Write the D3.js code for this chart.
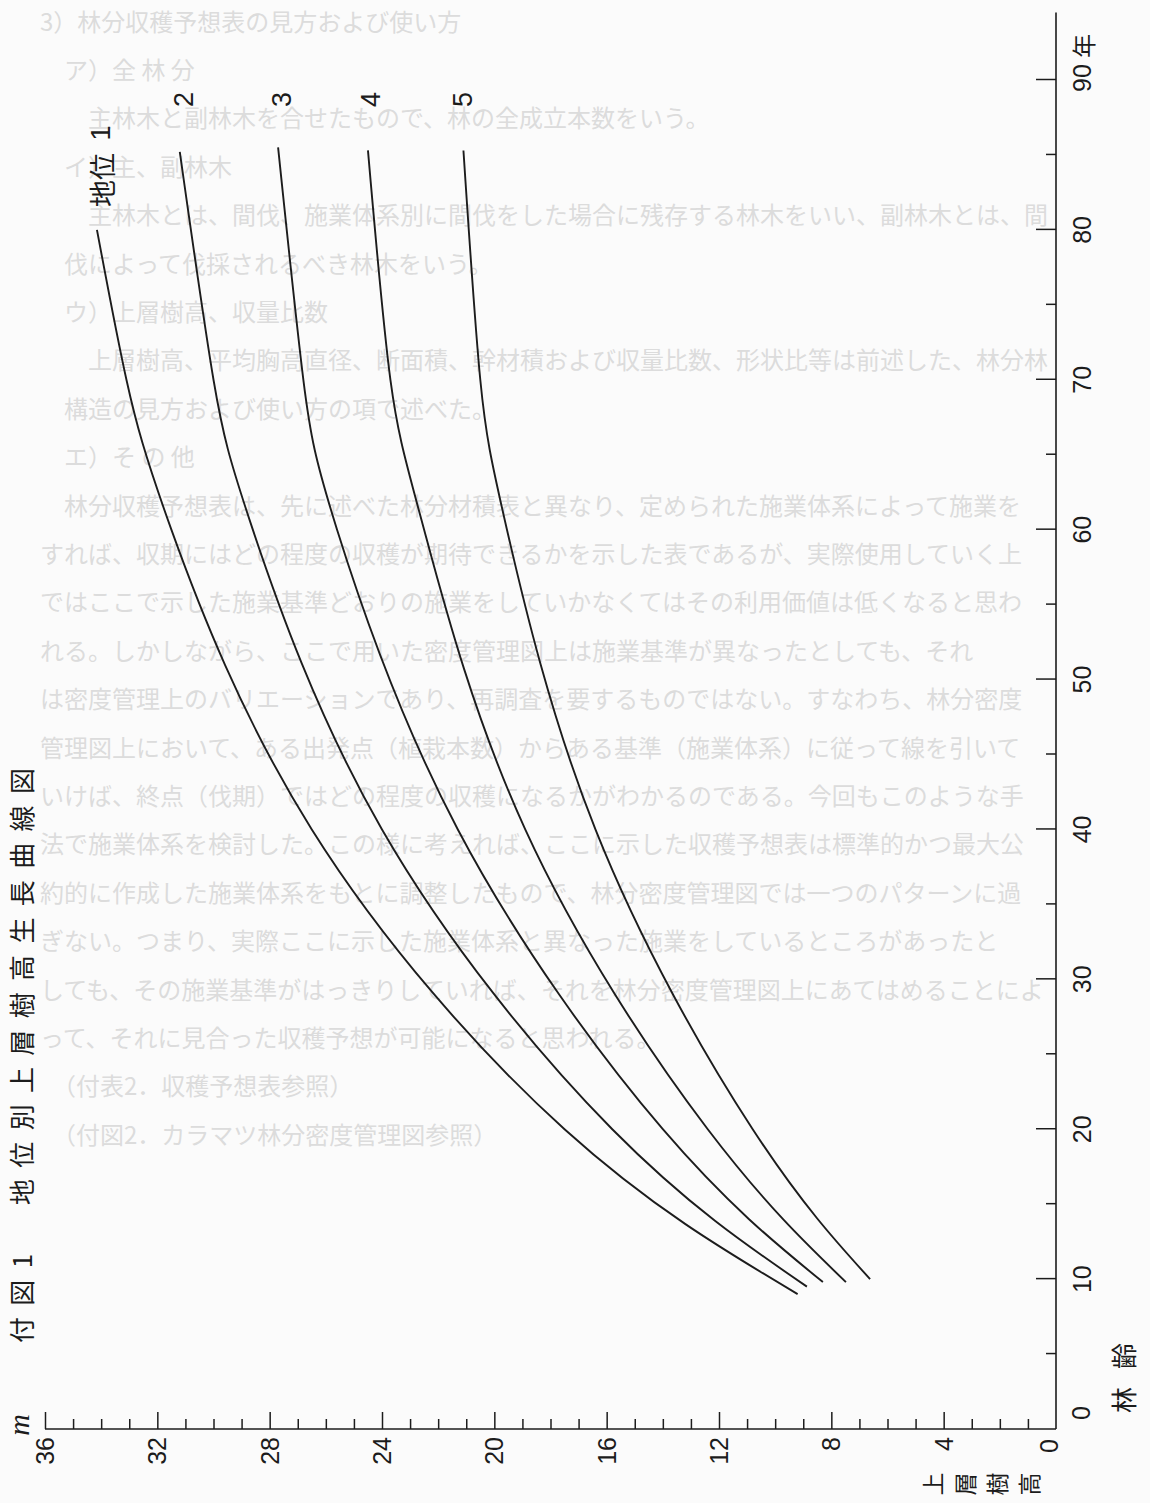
<!DOCTYPE html>
<html>
<head>
<meta charset="utf-8">
<script src="https://cdn.jsdelivr.net/npm/d3@7"></script>
<style>
  body { margin: 0; background: #fbfbfb; }
  svg { display: block; }
</style>
</head>
<body>
<svg id="chart" width="1150" height="1503"></svg>
<script>
// growth curves per site class (age in years, upper-layer height in m)
var siteLabels = ['地位', '2', '3', '4', '5'];
var site1Age = [9, 20, 40, 60, 70, 80];
var site1Height = [9.2, 17.5, 26.5, 31.5, 33.1, 34.15];
var site2Age = [9.5, 20, 40, 60, 70, 85.2];
var site2Height = [8.87, 15.8, 24.0, 28.6, 30.0, 31.2];
var site3Age = [9.8, 20, 40, 60, 70, 85.5];
var site3Height = [8.3, 14.0, 21.3, 25.6, 26.8, 27.7];
var site4Age = [9.8, 20, 40, 60, 70, 85.3];
var site4Height = [7.48, 12.4, 18.9, 22.5, 23.7, 24.5];
var site5Age = [10, 20, 40, 60, 70, 85.3];
var site5Height = [6.62, 10.8, 16.4, 19.55, 20.5, 21.1];

var ageMajor = [10, 20, 30, 40, 50, 60, 70, 80, 90];
var ageMinor = [5, 15, 25, 35, 45, 55, 65, 75, 85];
var heightMajor = [4, 8, 12, 16, 20, 24, 28, 32, 36];
var heightMinor = [1, 2, 3, 5, 6, 7, 9, 10, 11, 13, 14, 15, 17, 18, 19, 21, 22, 23, 25, 26, 27, 29, 30, 31, 33, 34, 35];

var title = '付図1　地位別上層樹高生長曲線図';
var heightTitle = ['上', '層', '樹', '高'];
var ageTitle = ['林', '齢'];

// text from the reverse of the sheet, showing through the paper
var backText = [
  '3）林分収穫予想表の見方および使い方',
  '　ア）全 林 分',
  '　　主林木と副林木を合せたもので、林の全成立本数をいう。',
  '　イ）主、副林木',
  '　　主林木とは、間伐、施業体系別に間伐をした場合に残存する林木をいい、副林木とは、間',
  '　伐によって伐採されるべき林木をいう。',
  '　ウ）上層樹高、収量比数',
  '　　上層樹高、平均胸高直径、断面積、幹材積および収量比数、形状比等は前述した、林分林',
  '　構造の見方および使い方の項で述べた。',
  '　エ）そ の 他',
  '　林分収穫予想表は、先に述べた林分材積表と異なり、定められた施業体系によって施業を',
  'すれば、収期にはどの程度の収穫が期待できるかを示した表であるが、実際使用していく上',
  'ではここで示した施業基準どおりの施業をしていかなくてはその利用価値は低くなると思わ',
  'れる。しかしながら、ここで用いた密度管理図上は施業基準が異なったとしても、それ',
  'は密度管理上のバリエーションであり、再調査を要するものではない。すなわち、林分密度',
  '管理図上において、ある出発点（植栽本数）からある基準（施業体系）に従って線を引いて',
  'いけば、終点（伐期）ではどの程度の収穫になるかがわかるのである。今回もこのような手',
  '法で施業体系を検討した。この様に考えれば、ここに示した収穫予想表は標準的かつ最大公',
  '約的に作成した施業体系をもとに調整したもので、林分密度管理図では一つのパターンに過',
  'ぎない。つまり、実際ここに示した施業体系と異なった施業をしているところがあったと',
  'しても、その施業基準がはっきりしていれば、それを林分密度管理図上にあてはめることによ',
  'って、それに見合った収穫予想が可能になると思われる。',
  '　（付表2．収穫予想表参照）',
  '　（付図2．カラマツ林分密度管理図参照）'
];

var W = 1150, H = 1503;
var jp = '"Noto Sans CJK JP", "Noto Sans", sans-serif';
var num = '"Liberation Sans Narrow", "Liberation Sans", sans-serif';
var ink = '#1c1c1c';

var svg = d3.select('#chart');
svg.append('rect').attr('width', W).attr('height', H).attr('fill', '#fbfbfb');

// faint show-through, horizontal on the scan
svg.append('g')
  .selectAll('text')
  .data(backText)
  .join('text')
  .attr('x', 40)
  .attr('y', function(d, i) { return 20 + i * 48.4; })
  .attr('dominant-baseline', 'central')
  .style('font-family', jp)
  .style('font-size', '24px')
  .style('fill', '#dcdcdc')
  .text(function(d) { return d; });

// the figure itself is printed turned a quarter turn, so draw it upright and rotate
var page = svg.append('g').attr('transform', 'translate(0,' + H + ') rotate(-90)');

var x = d3.scaleLinear().domain([0, 90]).range([74, 1423]);
var y = d3.scaleLinear().domain([0, 36]).range([1056, 45]);

// age axis (bottom of the upright figure)
var ageAxis = page.append('g').attr('transform', 'translate(0,' + y(0) + ')');
ageAxis.append('g').call(d3.axisBottom(x).tickValues(ageMinor).tickSize(-10).tickFormat(''));
ageAxis.append('g').call(d3.axisBottom(x).tickValues(ageMajor).tickSize(-20).tickFormat(''));
ageAxis.selectAll('.domain').remove();
ageAxis.append('line')
  .attr('x1', x(0)).attr('x2', x(94.5))
  .attr('stroke', ink).attr('stroke-width', 1.6);
ageAxis.selectAll('.tick line').attr('stroke', ink).attr('stroke-width', 1.5);

page.append('g')
  .selectAll('text')
  .data(ageMajor)
  .join('text')
  .attr('x', function(d) { return x(d) + (d === 90 ? 2 : 0); })
  .attr('y', 1082)
  .attr('text-anchor', 'middle')
  .attr('dominant-baseline', 'central')
  .style('font-family', num).style('font-size', '25px').style('fill', ink)
  .text(function(d) { return d; });
page.append('text')
  .attr('x', x(0) + 16).attr('y', 1081)
  .attr('text-anchor', 'middle').attr('dominant-baseline', 'central')
  .style('font-family', num).style('font-size', '25px').style('fill', ink)
  .text('0');
page.append('text')
  .attr('x', x(90) + 34).attr('y', 1082)
  .attr('text-anchor', 'middle').attr('dominant-baseline', 'central')
  .style('font-family', jp).style('font-size', '24px').style('fill', ink)
  .text('年');
page.append('g')
  .selectAll('text')
  .data(ageTitle)
  .join('text')
  .attr('x', function(d, i) { return 103 + i * 44; })
  .attr('y', 1122)
  .attr('text-anchor', 'middle').attr('dominant-baseline', 'central')
  .style('font-family', jp).style('font-size', '26px').style('fill', ink)
  .text(function(d) { return d; });

// height axis (left of the upright figure)
var heightAxis = page.append('g').attr('transform', 'translate(' + x(0) + ',0)');
heightAxis.append('g').call(d3.axisLeft(y).tickValues(heightMinor).tickSize(-10).tickFormat(''));
heightAxis.append('g').call(d3.axisLeft(y).tickValues(heightMajor).tickSize(-17).tickFormat(''));
heightAxis.selectAll('.domain').remove();
heightAxis.append('line')
  .attr('y1', y(0)).attr('y2', y(36))
  .attr('stroke', ink).attr('stroke-width', 1.6);
heightAxis.selectAll('.tick line').attr('stroke', ink).attr('stroke-width', 1.5);

page.append('g')
  .selectAll('text')
  .data(heightMajor)
  .join('text')
  .attr('x', x(0) - 8)
  .attr('y', function(d) { return y(d); })
  .attr('text-anchor', 'end').attr('dominant-baseline', 'central')
  .style('font-family', num).style('font-size', '25px').style('fill', ink)
  .text(function(d) { return d; });
page.append('text')
  .attr('x', x(0) - 10).attr('y', y(0) - 7)
  .attr('text-anchor', 'end').attr('dominant-baseline', 'central')
  .style('font-family', num).style('font-size', '25px').style('fill', ink)
  .text('0');
page.append('text')
  .attr('x', x(0) + 4).attr('y', 29)
  .attr('text-anchor', 'middle')
  .style('font-family', '"Liberation Serif", serif').style('font-style', 'italic')
  .style('font-size', '30px').style('fill', ink)
  .text('m');
page.append('g')
  .selectAll('text')
  .data(heightTitle)
  .join('text')
  .attr('x', 19)
  .attr('y', function(d, i) { return 932 + i * 32; })
  .attr('text-anchor', 'middle').attr('dominant-baseline', 'central')
  .style('font-family', jp).style('font-size', '23px').style('fill', ink)
  .text(function(d) { return d; });

// title along the top
page.append('text')
  .attr('x', 160).attr('y', 20)
  .attr('dominant-baseline', 'central')
  .attr('textLength', 575).attr('lengthAdjust', 'spacing')
  .style('font-family', jp).style('font-size', '26px').style('fill', ink)
  .text(title);

// curves
var siteSeries = [
  d3.zip(site1Age, site1Height),
  d3.zip(site2Age, site2Height),
  d3.zip(site3Age, site3Height),
  d3.zip(site4Age, site4Height),
  d3.zip(site5Age, site5Height)
];
var line = d3.line()
  .x(function(d) { return x(d[0]); })
  .y(function(d) { return y(d[1]); })
  .curve(d3.curveNatural);

page.append('g')
  .selectAll('path')
  .data(siteSeries)
  .join('path')
  .attr('d', line)
  .attr('fill', 'none')
  .attr('stroke', ink)
  .attr('stroke-width', 1.9);

// curve labels
page.append('g')
  .selectAll('text')
  .data(siteLabels)
  .join('text')
  .attr('x', function(d, i) { return i === 0 ? 1296 : x(88.7); })
  .attr('y', function(d, i) { return [101, 184, 282, 371, 463][i]; })
  .attr('text-anchor', function(d, i) { return i === 0 ? 'start' : 'middle'; })
  .attr('dominant-baseline', 'central')
  .style('font-family', function(d, i) { return i === 0 ? jp : num; })
  .style('font-size', '27px')
  .style('fill', ink)
  .text(function(d) { return d; });
page.append('text')
  .attr('x', 1370).attr('y', 101)
  .attr('text-anchor', 'middle').attr('dominant-baseline', 'central')
  .style('font-family', num).style('font-size', '27px').style('fill', ink)
  .text('1');
</script>
</body>
</html>
